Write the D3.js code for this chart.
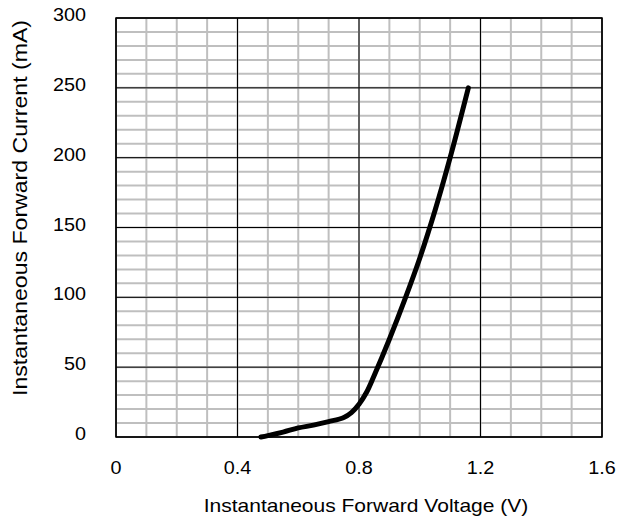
<!DOCTYPE html>
<html><head><meta charset="utf-8">
<script src="https://cdn.jsdelivr.net/npm/d3@7"></script>
<style>body{margin:0;background:#fff}svg{display:block}text{font-family:"Liberation Sans",Arial,sans-serif;fill:#000}</style>
</head><body>
<script>
const voltage = [0.477, 0.5, 0.55, 0.6, 0.65, 0.7, 0.75, 0.775, 0.8, 0.825, 0.85, 0.9, 0.95, 1.0, 1.05, 1.1, 1.16];
const current = [0, 1, 3.5, 6.5, 8.5, 11, 14, 17.5, 23.5, 32, 44, 70, 98, 128, 162, 200, 250];
const xTicks = [0, 0.4, 0.8, 1.2, 1.6];
const xTickLabels = ["0", "0.4", "0.8", "1.2", "1.6"];
const yTicks = [0, 50, 100, 150, 200, 250, 300];
const xMinor = d3.range(0, 1.6001, 0.1);
const yMinor = d3.range(0, 300.01, 10);
const xTitle = "Instantaneous Forward Voltage (V)";
const yTitle = "Instantaneous Forward Current (mA)";

const W = 621, H = 522;
const L = 116, R = 602, T = 18, B = 437;
const svg = d3.select("body").append("svg").attr("width", W).attr("height", H);
const x = d3.scaleLinear().domain([0, 1.6]).range([L, R]);
const y = d3.scaleLinear().domain([0, 300]).range([B, T]);

const g = svg.append("g");
g.selectAll(".vm").data(xMinor).join("line")
  .attr("x1", d => x(d)).attr("x2", d => x(d)).attr("y1", T).attr("y2", B)
  .attr("stroke", "#bfbfbf").attr("stroke-width", 2);
g.selectAll(".hm").data(yMinor).join("line")
  .attr("y1", d => y(d)).attr("y2", d => y(d)).attr("x1", L).attr("x2", R)
  .attr("stroke", "#bfbfbf").attr("stroke-width", 2);
g.selectAll(".vM").data(xTicks).join("line")
  .attr("x1", d => x(d)).attr("x2", d => x(d)).attr("y1", T).attr("y2", B)
  .attr("stroke", "#000").attr("stroke-width", 1);
g.selectAll(".hM").data(yTicks).join("line")
  .attr("y1", d => y(d)).attr("y2", d => y(d)).attr("x1", L).attr("x2", R)
  .attr("stroke", "#000").attr("stroke-width", 1);
g.append("rect").attr("x", L).attr("y", T).attr("width", R - L).attr("height", B - T)
  .attr("fill", "none").attr("stroke", "#000").attr("stroke-width", 1.5);

const pts = voltage.map((v, i) => [v, current[i]]);
svg.append("path").datum(pts)
  .attr("d", d3.line().x(d => x(d[0])).y(d => y(d[1])).curve(d3.curveCatmullRom.alpha(0.5)))
  .attr("fill", "none").attr("stroke", "#000").attr("stroke-width", 5)
  .attr("stroke-linecap", "round").attr("stroke-linejoin", "round");

svg.selectAll(".xl").data(xTicks).join("text")
  .attr("transform", d => `translate(${x(d)},474) scale(1.1,1)`)
  .attr("text-anchor", "middle").attr("font-size", 18)
  .text((d, i) => xTickLabels[i]);
svg.selectAll(".yl").data(yTicks).join("text")
  .attr("transform", d => `translate(86,${y(d) + 3}) scale(1.1,1)`)
  .attr("text-anchor", "end").attr("font-size", 18)
  .text(d => d);
svg.append("text").attr("transform", `translate(366,512) scale(1.13,1)`)
  .attr("text-anchor", "middle").attr("font-size", 18.6).text(xTitle);
svg.append("text").attr("transform", `translate(27,208) rotate(-90) scale(1.1,1)`)
  .attr("text-anchor", "middle").attr("font-size", 21).text(yTitle);
</script>
</body></html>
